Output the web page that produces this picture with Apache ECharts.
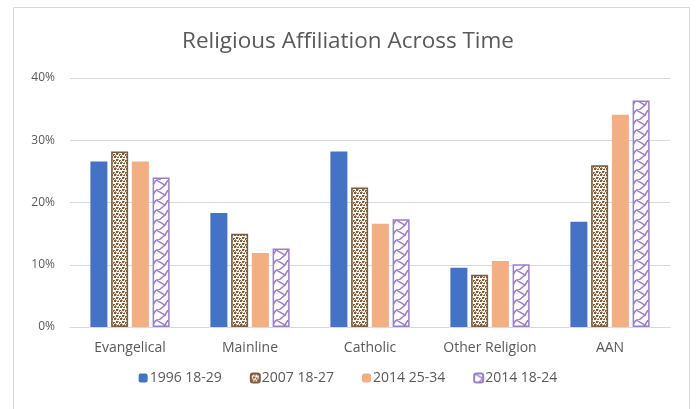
<!DOCTYPE html>
<html><head><meta charset="utf-8">
<script src="https://cdn.jsdelivr.net/npm/echarts@6/dist/echarts.min.js"></script>
<style>html,body{margin:0;padding:0;background:#fff}#c{width:696px;height:409px}</style>
</head><body><div id="c"></div>
<script>
const categories = ['Evangelical', 'Mainline', 'Catholic', 'Other Religion', 'AAN'];
const seriesNames = ['1996 18-29', '2007 18-27', '2014 25-34', '2014 18-24'];
const s1996 = [26.6, 18.3, 28.2, 9.5, 16.9];
const s2007 = [28.2, 15.0, 22.4, 8.4, 26.0];
const s2014a = [26.6, 11.9, 16.6, 10.6, 34.1];
const s2014b = [24.0, 12.6, 17.3, 10.1, 36.4];
const yTicks = [0, 10, 20, 30, 40];

function dotsPattern() {
  const c = document.createElement('canvas'); c.width = 6; c.height = 6;
  const g = c.getContext('2d');
  g.fillStyle = '#fbf7f1'; g.fillRect(0, 0, 6, 6);
  g.fillStyle = '#7e5c3d';
  g.fillRect(0, 0, 2, 2); g.fillRect(3, 1, 2, 1); g.fillRect(2, 3, 2, 2);
  g.fillRect(5, 4, 1, 2); g.fillRect(0, 4, 1, 1);
  g.fillStyle = '#b89a78';
  g.fillRect(2, 0, 1, 1); g.fillRect(4, 3, 1, 1); g.fillRect(1, 5, 1, 1); g.fillRect(4, 0, 1, 1);
  return {image: c, repeat: 'repeat'};
}
function zigPattern() {
  const c = document.createElement('canvas'); c.width = 12; c.height = 10;
  const g = c.getContext('2d');
  g.fillStyle = '#ffffff'; g.fillRect(0, 0, 12, 10);
  g.strokeStyle = '#9b7fc4'; g.lineWidth = 1.5;
  g.beginPath(); g.moveTo(0, 0); g.lineTo(9, 5); g.lineTo(3, 10); g.stroke();
  g.beginPath(); g.moveTo(12, 0); g.lineTo(9, 5); g.stroke();
  g.beginPath(); g.moveTo(0, 10); g.lineTo(3, 10); g.stroke();
  return {image: c, repeat: 'repeat'};
}

const chart = echarts.init(document.getElementById('c'), null, {renderer: 'canvas'});
const font = 'Open Sans, Lato, sans-serif';
const fills = ['#4472C4', dotsPattern(), '#F4AE83', zigPattern()];
const borders = ['#4472C4', '#7e5c3d', '#F4AE83', '#9b7fc4'];
const datas = [s1996, s2007, s2014a, s2014b];

chart.setOption({
  animation: false,
  backgroundColor: '#fff',
  title: {
    text: 'Religious Affiliation Across Time',
    left: 'center', top: 25,
    textStyle: {fontFamily: font, fontSize: 22.5, fontWeight: 'normal', color: '#595959'}
  },
  graphic: [{
    type: 'rect', shape: {x: 13.5, y: 7.5, width: 676, height: 420},
    style: {fill: 'none', stroke: '#d9d9d9', lineWidth: 1}, silent: true
  }],
  legend: {
    data: seriesNames, bottom: 19, left: 'center',
    itemWidth: 9, itemHeight: 9, itemGap: 28,
    textStyle: {fontFamily: font, fontSize: 14, color: '#595959', padding: [0, 0, 0, -3]}
  },
  grid: {left: 70, right: 26, top: 78, bottom: 82},
  xAxis: {
    type: 'category', data: categories,
    axisLine: {lineStyle: {color: '#d9d9d9'}},
    axisTick: {show: false},
    axisLabel: {interval: 0, fontFamily: font, fontSize: 14, color: '#595959', margin: 14}
  },
  yAxis: {
    type: 'value', min: 0, max: 40, interval: 10,
    axisLine: {show: false}, axisTick: {show: false},
    splitLine: {lineStyle: {color: '#d9d9d9'}},
    axisLabel: {fontFamily: font, fontSize: 12, color: '#595959', margin: 15,
      formatter: v => yTicks.includes(v) ? v + '%' : ''}
  },
  series: seriesNames.map((n, i) => ({
    name: n, type: 'bar', data: datas[i],
    barWidth: 17, barGap: '22%',
    itemStyle: {color: fills[i], borderColor: borders[i], borderWidth: (i === 1 || i === 3) ? 1.5 : 0}
  }))
});
</script></body></html>
